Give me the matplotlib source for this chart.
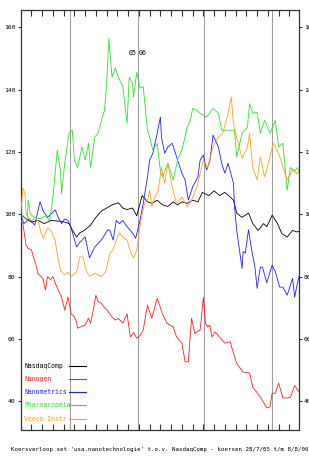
import numpy as np
import matplotlib
matplotlib.use('Agg')
import matplotlib.pyplot as plt
from matplotlib.lines import Line2D

# trading-day index (0 = 28/7/05, 259 = 8/8/06) and relative price (start = 100)
nasdaq_x = [0, 5, 10, 16, 22, 28, 35, 41, 45, 48, 52, 55, 60, 65, 70, 75, 80, 85, 91, 95,
            99, 104, 108, 113, 118, 122, 127, 132, 137, 142, 146, 150, 155, 160, 165, 169,
            175, 180, 185, 190, 195, 198, 201, 206, 212, 216, 221, 226, 229, 234, 239, 243,
            248, 253, 257, 259]
nasdaq_y = [100, 98.5, 97.5, 98, 97, 98, 97.8, 97.5, 97, 95, 92.7, 94, 95, 96.5, 99, 101,
            102, 103, 103.7, 102, 101.5, 102, 99.5, 106, 104, 103.5, 104.5, 103, 102.5, 104,
            103, 104, 103.5, 104.5, 104, 107, 106, 107.5, 106, 107, 105.5, 104.5, 100.4, 99,
            100.4, 97, 94.8, 97, 96, 99.7, 97, 93.8, 92.7, 94.8, 94.3, 94.5]

nanogen_x = [0, 2, 5, 7, 10, 12, 14, 16, 19, 21, 23, 25, 28, 30, 32, 35, 38, 41, 44, 47,
             50, 52, 53, 57, 60, 63, 65, 68, 70, 72, 75, 78, 81, 85, 88, 91, 95, 99, 102,
             105, 108, 111, 114, 118, 122, 127, 130, 132, 136, 142, 145, 150, 153, 156, 159,
             162, 167, 170, 172, 174, 176, 178, 181, 185, 190, 195, 198, 201, 207, 213, 216,
             223, 229, 232, 234, 237, 240, 244, 248, 251, 255, 259]
nanogen_y = [98, 97, 90, 89, 88.6, 86, 84, 81, 80, 79, 75.6, 80, 79, 80, 78, 75.6, 73.4,
             69.2, 73.4, 68, 67, 65.4, 63.4, 64, 64.4, 66.6, 65, 70, 74, 72, 71.4, 70, 69, 67,
             66, 66.5, 65, 68, 60.6, 62, 60.2, 61, 62.8, 70.8, 66.6, 73, 70, 68, 65, 63.8,
             60.6, 58.6, 52.6, 52.6, 66.6, 61.8, 62.8, 73.4, 65, 63.8, 64.4, 60.6, 62.2, 60.6,
             58.6, 59, 55.4, 52.1, 49.3, 49, 44.5, 41.3, 37.8, 38.1, 42.5, 42.5, 45.8, 41, 41,
             41.2, 45, 43]

nanometrics_x = [0, 3, 8, 13, 18, 21, 25, 28, 32, 35, 38, 41, 44, 47, 52, 55, 60, 64, 69,
                 75, 81, 83, 86, 89, 92, 95, 99, 104, 107, 111, 114, 118, 120, 123, 127, 130,
                 131, 134, 137, 141, 144, 146, 150, 153, 156, 160, 165, 167, 170, 173, 176,
                 179, 184, 187, 190, 193, 198, 199, 201, 204, 206, 207, 209, 212, 215, 218,
                 220, 223, 225, 229, 234, 237, 241, 244, 248, 253, 255, 257, 259]
nanometrics_y = [100, 97, 98.5, 96.5, 104, 101, 99, 100, 101.4, 99, 97, 98.5, 98, 95.5,
                 89.5, 91, 92.7, 86, 89.5, 91.7, 95, 94.8, 91.7, 98, 97, 98, 96, 94, 92.3, 98,
                 103.4, 112, 117.4, 119.6, 126, 131.2, 124.8, 119.6, 121.6, 122.8, 119.6,
                 117.4, 113.2, 111, 104.5, 108.8, 112, 117.4, 119, 114.2, 117, 125.4, 121.6,
                 116.4, 113.2, 116.4, 110, 102.4, 95, 87.5, 82.6, 88, 87.5, 95, 88.5, 83,
                 76.2, 83, 83, 78, 83.6, 81.5, 76.6, 76.6, 74, 79.4, 73.4, 77, 80]

pharma_x = [0, 3, 6, 7, 9, 13, 18, 23, 27, 30, 34, 37, 38, 41, 45, 48, 50, 53, 57, 60, 63,
            65, 69, 72, 76, 78, 80, 82, 85, 88, 91, 95, 99, 101, 104, 105, 108, 111, 114,
            118, 120, 123, 127, 130, 132, 137, 142, 146, 150, 155, 158, 160, 164, 167, 173,
            179, 184, 187, 193, 199, 201, 206, 211, 213, 216, 220, 223, 227, 232, 237, 240,
            244, 248, 251, 255, 258, 259]
pharma_y = [100, 99, 98, 104.5, 100, 99, 98.5, 99.5, 98, 105.5, 120.6, 114, 106.7, 116.4,
            126, 127, 117.4, 115, 121.6, 117.4, 122.8, 115, 124.8, 126, 131.2, 133.4, 142,
            156.5, 144, 147, 144, 141, 129.2, 144, 142, 137.7, 145.6, 140.5, 141, 127, 124.8,
            120.6, 122.8, 114, 112, 116.4, 111, 117.4, 120.6, 128, 130.2, 134, 133.4, 132.4,
            131.2, 134, 132.4, 127, 127, 127, 118.4, 126, 128, 135.5, 132.4, 132.8, 126,
            130.2, 126, 130.2, 121.6, 122.8, 107.7, 115, 114, 115, 113]

veeco_x = [0, 2, 4, 5, 9, 13, 16, 19, 21, 25, 28, 32, 35, 37, 41, 44, 47, 52, 55, 58, 61,
           64, 69, 75, 79, 83, 86, 88, 90, 92, 95, 99, 102, 105, 108, 111, 113, 116, 118,
           120, 122, 125, 128, 131, 134, 137, 141, 145, 150, 155, 159, 164, 167, 170, 174,
           179, 184, 188, 193, 196, 198, 201, 206, 211, 213, 216, 220, 223, 227, 232, 235,
           240, 243, 248, 253, 257, 259]
veeco_y = [100, 108.4, 106.7, 100, 98, 98.5, 98, 94, 92.3, 95.5, 95, 91.7, 85.3, 82, 80.5,
           81.4, 80, 81.4, 86.3, 86.3, 82, 80, 81, 80, 81.4, 87.5, 88.5, 90.7, 92.7, 94,
           92.7, 91.7, 88, 86, 88.5, 96, 100, 104.5, 104.5, 107.7, 102.4, 105.5, 107.7, 115,
           110, 116.4, 108.8, 103.4, 105.5, 102.4, 104.5, 108.8, 113, 117.4, 115, 121.6,
           124.8, 126, 132.4, 137.7, 129, 124.8, 118, 121.6, 126, 115, 111, 118.4, 112,
           118.4, 122.8, 119.6, 116.4, 111, 114.2, 113, 114.2]

names = ['NasdaqComp', 'Nanogen', 'Nanometrics', 'Pharmacopeia', 'Veeco Instr']
colors = ['#000000', '#ff2020', '#2020ff', '#30e030', '#ffa020']
series = [(nasdaq_x, nasdaq_y), (nanogen_x, nanogen_y), (nanometrics_x, nanometrics_y),
          (pharma_x, pharma_y), (veeco_x, veeco_y)]

quarter_starts = [46, 109, 171, 234]
yticks = [40, 60, 80, 100, 120, 140, 160]
caption = "Koersverloop set 'usa.nanotechnologie' t.o.v. NasdaqComp - koersen 28/7/05 t/m 8/8/06"

font = 'DejaVu Sans Mono'
fig = plt.figure(figsize=(3.09, 4.59), dpi=100)
ax = fig.add_axes([20.7/309, 29/459, 278.3/309, 420/459])

for q in quarter_starts:
    ax.axvline(q, color='#a0a0a0', lw=0.8, zorder=1)

for (xs, ys), c in zip(series, colors):
    ax.plot(xs, ys, color=c, lw=0.6, zorder=3)

ax.set_xlim(0, 259)
ax.set_ylim(30.7, 165.6)
ax.set_xticks(np.arange(10, 259, 10))
ax.set_yticks(yticks)
ax.tick_params(axis='x', direction='in', top=True, bottom=True, length=4, width=0.8,
               labelbottom=False, color='#333333')
ax.tick_params(axis='y', direction='out', left=True, right=True, labelright=True,
               length=2.5, width=0.8, pad=1, labelsize=4.6, color='#333333')
for lab in ax.yaxis.get_ticklabels():
    lab.set_family(font)
for s in ax.spines.values():
    s.set_color('#333333')
    s.set_linewidth(0.9)

# year change label
ax.text(quarter_starts[1] - 1, 151.7, '05', fontsize=4.8, family=font, ha='right', va='center')
ax.text(quarter_starts[1] + 1, 151.7, '06', fontsize=4.8, family=font, ha='left', va='center')

# legend: name first, coloured line to the right
leg_y = [0.153, 0.122, 0.090, 0.060, 0.027]
for name, c, yy in zip(names, colors, leg_y):
    ax.text(0.012, yy, name, color=c, fontsize=4.7, family=font, transform=ax.transAxes,
            ha='left', va='center')
    ax.add_line(Line2D([0.174, 0.235], [yy, yy], color=c, lw=0.8, transform=ax.transAxes))

fig.text(11/309, 9/459, caption, fontsize=4.15, family=font, ha='left', va='center')

fig.savefig('out.png', dpi=100)
